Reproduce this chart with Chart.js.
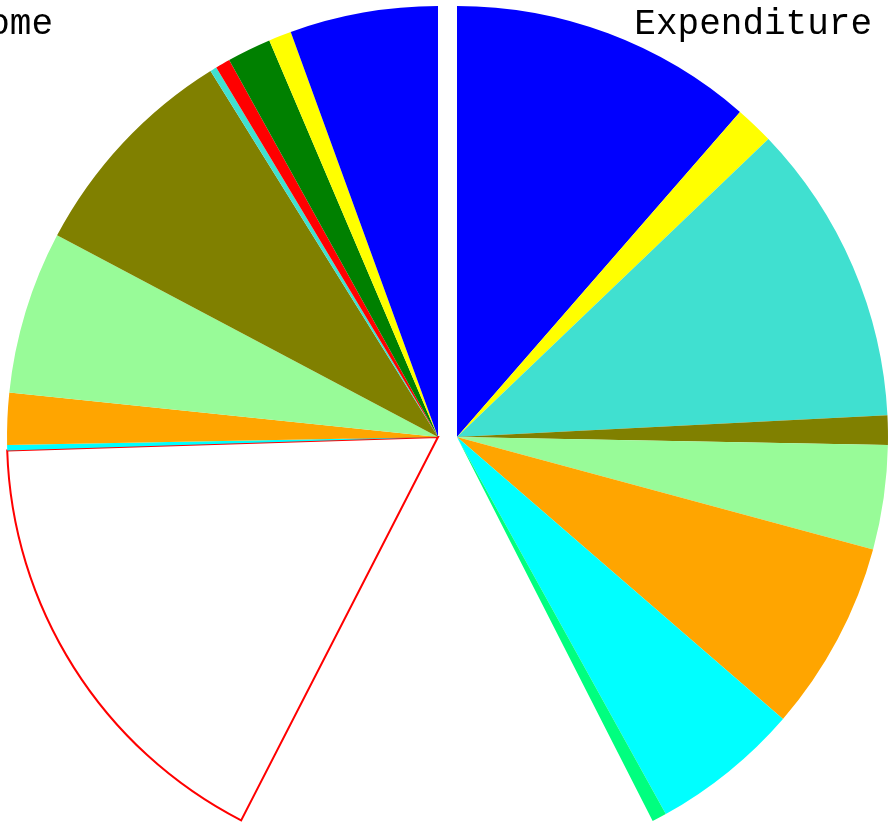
<!DOCTYPE html>
<html lang="en">
  <head>
    <script src="https://cdn.jsdelivr.net/npm/chart.js"></script>
    <meta charset="UTF-8" />
    <title>Income and Expenditure</title>
    <style>
      html, body {
        margin: 0;
        padding: 0;
        width: 888px;
        height: 827px;
        overflow: hidden;
        background: #ffffff;
      }
      canvas {
        position: absolute;
      }
      #left { left: -2px; top: -3px; }
      #right { left: 17px; top: -3px; }
      .label {
        position: absolute;
        font-family: "Liberation Mono", "Courier New", monospace;
        font-size: 36px;
        line-height: 36px;
        white-space: nowrap;
        color: #000;
      }
      #incomeLabel { right: 835px; top: 7px; }
      #expLabel { right: 16px; top: 7px; }
    </style>
  </head>
  <body>
    <canvas id="right" width="880" height="880"></canvas>
    <canvas id="left" width="880" height="880"></canvas>
    <div class="label" id="incomeLabel">Income</div>
    <div class="label" id="expLabel">Expenditure</div>

    <script>
      // a full half circle stands for this much
      const HALF = 100;

      // income, listed counter-clockwise from the top
      const incomeValues = [11.1, 1.7, 3.3, 1.1, 0.5, 16.8, 12.2, 3.9, 0.4, 33.9];
      const incomeColors = ['#0000ff', '#ffff00', '#008000', '#ff0000', '#40e0d0',
                            '#808000', '#98fb98', '#ffa500', '#00ffff', '#ffffff'];
      const incomeBorders = [0, 0, 0, 0, 0, 0, 0, 0, 0, 2];

      // expenditure, listed clockwise from the top
      const expValues = [22.8, 2.9, 22.7, 2.2, 7.8, 14.3, 11.2, 1.1];
      const expColors = ['#0000ff', '#ffff00', '#40e0d0', '#808000',
                         '#98fb98', '#ffa500', '#00ffff', '#00ff7f'];

      const sum = arr => arr.reduce((a, b) => a + b, 0);

      function makePie(id, values, colors, borders) {
        const ctx = document.getElementById(id).getContext('2d');
        return new Chart(ctx, {
          type: 'pie',
          data: {
            datasets: [{
              data: values,
              backgroundColor: colors,
              borderColor: '#ff0000',
              borderWidth: borders,
              borderJoinStyle: 'miter'
            }]
          },
          options: {
            responsive: false,
            animation: false,
            events: [],
            radius: 431,
            rotation: 0,
            layout: { padding: 0 },
            plugins: {
              legend: { display: false },
              tooltip: { enabled: false }
            }
          }
        });
      }

      // right: clockwise from top, rest of the circle left empty
      makePie('right',
        expValues.concat([2 * HALF - sum(expValues)]),
        expColors.concat(['rgba(0,0,0,0)']),
        expValues.map(() => 0).concat([0]));

      // left: reversed so it ends at the top, empty part first
      makePie('left',
        [2 * HALF - sum(incomeValues)].concat(incomeValues.slice().reverse()),
        ['rgba(0,0,0,0)'].concat(incomeColors.slice().reverse()),
        [0].concat(incomeBorders.slice().reverse()));
    </script>
  </body>
</html>
